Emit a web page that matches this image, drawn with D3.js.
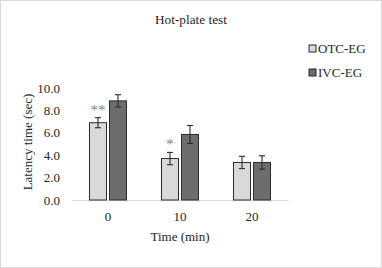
<!DOCTYPE html>
<html>
<head>
<meta charset="utf-8">
<script src="https://cdn.jsdelivr.net/npm/d3@7"></script>
<style>
body { margin: 0; background: #fff; }
</style>
</head>
<body>
<div id="chart"></div>
<script>
var categories = ["0", "10", "20"];
var seriesNames = ["OTC-EG", "IVC-EG"];
var otcValues = [6.9, 3.7, 3.35];
var otcErrors = [0.45, 0.55, 0.55];
var ivcValues = [8.85, 5.85, 3.35];
var ivcErrors = [0.55, 0.8, 0.6];
var stars = ["**", "*", ""];
var yTicks = [0, 2, 4, 6, 8, 10];

var fills = ["#d9d9d9", "#6d6d6d"];
var fs = "13px";

var W = 382, H = 268;
var margin = { top: 88, right: 94, bottom: 68, left: 72 },
    width = W - margin.left - margin.right,
    height = H - margin.top - margin.bottom;

var svg = d3.select("#chart").append("svg")
    .attr("width", W)
    .attr("height", H)
    .style("font-family", "'Liberation Serif', 'Times New Roman', serif");

svg.append("rect")
    .attr("x", 0.5).attr("y", 0.5)
    .attr("width", W - 1).attr("height", H - 1)
    .attr("fill", "#fff")
    .attr("stroke", "#d9d9d9");

var g = svg.append("g")
    .attr("transform", "translate(" + margin.left + "," + margin.top + ")");

var x = d3.scaleBand()
    .domain(categories)
    .range([0, width])
    .paddingInner(0.486)
    .paddingOuter(0.243);

var x1 = d3.scaleBand()
    .domain(seriesNames)
    .range([0, x.bandwidth()])
    .paddingInner(0.15);

var y = d3.scaleLinear()
    .domain([0, 10])
    .range([height, 0]);

// y tick labels, no axis line
var yAxis = d3.axisLeft(y)
    .tickValues(yTicks)
    .tickFormat(d3.format(".1f"))
    .tickSize(0)
    .tickPadding(12);

var ya = g.append("g").call(yAxis);
ya.select(".domain").remove();
ya.selectAll("text")
    .style("font-size", fs)
    .style("font-family", "'Liberation Serif', serif")
    .style("fill", "#262626");

// x axis
var xAxis = d3.axisBottom(x).tickSize(0).tickPadding(12);
var xa = g.append("g")
    .attr("transform", "translate(0," + height + ")")
    .call(xAxis);
xa.select(".domain").attr("stroke", "#d9d9d9").attr("stroke-width", 1.2);
xa.selectAll("text")
    .style("font-size", fs)
    .style("font-family", "'Liberation Serif', serif")
    .style("fill", "#262626");

var rows = categories.map(function(c, i) {
    return [
        { cat: c, s: seriesNames[0], v: otcValues[i], e: otcErrors[i], k: 0 },
        { cat: c, s: seriesNames[1], v: ivcValues[i], e: ivcErrors[i], k: 1 }
    ];
});

var groups = g.selectAll(".grp")
    .data(rows)
    .enter().append("g")
    .attr("class", "grp")
    .attr("transform", function(d) { return "translate(" + x(d[0].cat) + ",0)"; });

groups.selectAll("rect")
    .data(function(d) { return d; })
    .enter().append("rect")
    .attr("x", function(d) { return x1(d.s); })
    .attr("y", function(d) { return y(d.v); })
    .attr("width", x1.bandwidth())
    .attr("height", function(d) { return height - y(d.v); })
    .attr("fill", function(d) { return fills[d.k]; })
    .attr("stroke", "#2b2b2b")
    .attr("stroke-width", 1);

// error bars
var eb = groups.selectAll(".err")
    .data(function(d) { return d; })
    .enter().append("g")
    .attr("class", "err")
    .attr("stroke", "#2b2b2b")
    .attr("stroke-width", 1.1);

eb.append("line")
    .attr("x1", function(d) { return x1(d.s) + x1.bandwidth() / 2; })
    .attr("x2", function(d) { return x1(d.s) + x1.bandwidth() / 2; })
    .attr("y1", function(d) { return y(d.v + d.e); })
    .attr("y2", function(d) { return y(d.v - d.e); });
eb.append("line")
    .attr("x1", function(d) { return x1(d.s) + x1.bandwidth() / 2 - 3; })
    .attr("x2", function(d) { return x1(d.s) + x1.bandwidth() / 2 + 3; })
    .attr("y1", function(d) { return y(d.v + d.e); })
    .attr("y2", function(d) { return y(d.v + d.e); });
eb.append("line")
    .attr("x1", function(d) { return x1(d.s) + x1.bandwidth() / 2 - 3; })
    .attr("x2", function(d) { return x1(d.s) + x1.bandwidth() / 2 + 3; })
    .attr("y1", function(d) { return y(d.v - d.e); })
    .attr("y2", function(d) { return y(d.v - d.e); });

// significance stars
groups.append("text")
    .attr("x", function(d) { return x1(d[0].s) + x1.bandwidth() / 2; })
    .attr("y", function(d) { return y(d[0].v + d[0].e) - 3; })
    .attr("text-anchor", "middle")
    .style("font-size", "15px")
    .style("fill", "#7f7f7f")
    .text(function(d, i) { return stars[i]; });

// title
svg.append("text")
    .attr("x", 191)
    .attr("y", 24)
    .attr("text-anchor", "middle")
    .style("font-size", "13.3px")
    .style("fill", "#262626")
    .text("Hot-plate test");

// y label
svg.append("text")
    .attr("transform", "rotate(-90)")
    .attr("x", -(margin.top + height / 2) + 2)
    .attr("y", 32)
    .attr("text-anchor", "middle")
    .style("font-size", fs)
    .style("fill", "#262626")
    .text("Latency time (sec)");

// x label
svg.append("text")
    .attr("x", 180)
    .attr("y", 241)
    .attr("text-anchor", "middle")
    .style("font-size", fs)
    .style("fill", "#262626")
    .text("Time (min)");

// legend
var leg = svg.selectAll(".leg")
    .data(seriesNames)
    .enter().append("g")
    .attr("class", "leg")
    .attr("transform", function(d, i) { return "translate(309," + (45 + i * 24) + ")"; });

leg.append("rect")
    .attr("width", 7).attr("height", 7)
    .attr("fill", function(d, i) { return fills[i]; })
    .attr("stroke", "#2b2b2b")
    .attr("stroke-width", 1);

leg.append("text")
    .attr("x", 9)
    .attr("y", 8)
    .style("font-size", fs)
    .style("fill", "#262626")
    .text(function(d) { return d; });
</script>
</body>
</html>
